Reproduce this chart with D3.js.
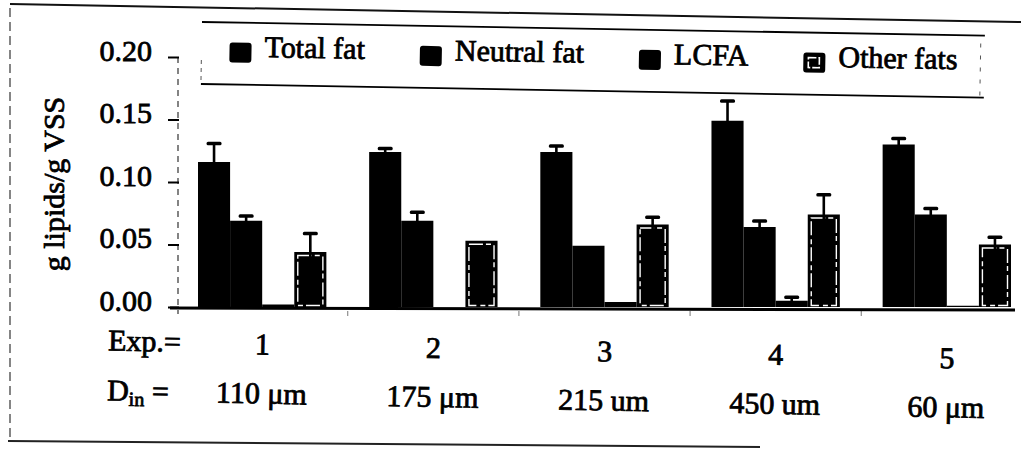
<!DOCTYPE html>
<html>
<head>
<meta charset="utf-8">
<script src="https://cdn.jsdelivr.net/npm/d3@7/dist/d3.min.js"></script>
<style>
  html, body { margin: 0; padding: 0; background: #fff; }
  svg { display: block; }
  svg text { font-family: "Liberation Serif", "DejaVu Serif", serif !important; fill: #000; stroke: #000; stroke-width: 0.8px; }
</style>
</head>
<body>
<svg id="chart" width="1021" height="453"></svg>
<script>
// Lipid content per experiment (g lipids / g VSS), mean and error
const exps = ["1", "2", "3", "4", "5"];
const diameters = ["110 μm", "175 μm", "215 um", "450 um", "60 μm"];
const series = ["Total fat", "Neutral fat", "LCFA", "Other fats"];
const totalFat      = [0.116, 0.124, 0.124, 0.149, 0.130];
const totalFatErr   = [0.015, 0.003, 0.005, 0.016, 0.005];
const neutralFat    = [0.069, 0.069, 0.049, 0.064, 0.074];
const neutralFatErr = [0.004, 0.007, 0.000, 0.005, 0.005];
const lcfa          = [0.002, 0.000, 0.004, 0.005, 0.001];
const lcfaErr       = [0.000, 0.000, 0.000, 0.003, 0.000];
const otherFats     = [0.044, 0.053, 0.066, 0.074, 0.050];
const otherFatsErr  = [0.015, 0.000, 0.006, 0.016, 0.006];
const yTicks = [0.00, 0.05, 0.10, 0.15, 0.20];
const yLabel = "g lipids/g VSS";

const values = [totalFat, neutralFat, lcfa, otherFats];
const errors = [totalFatErr, neutralFatErr, lcfaErr, otherFatsErr];
const rows = [];
series.forEach((s, si) => exps.forEach((e, ei) => rows.push({
  series: s, exp: e, value: values[si][ei], err: errors[si][ei]
})));

const svg = d3.select("#chart");
const fontSize = 30;
const serif = "'Liberation Serif', 'DejaVu Serif', serif";

const y = d3.scaleLinear().domain([0, 0.20]).range([307, 57]);
const x = d3.scaleBand().domain(exps).range([198, 1011]).paddingInner(0.25).paddingOuter(0);
const xs = d3.scaleBand().domain(series).range([0, x.bandwidth()]).padding(0);

// outer frame (page border)
svg.append("line").attr("x1", 10).attr("y1", 4).attr("x2", 1021).attr("y2", 22)
  .attr("stroke", "#111").attr("stroke-width", 2);
svg.append("line").attr("x1", 10).attr("y1", 8).attr("x2", 10).attr("y2", 440)
  .attr("stroke", "#444").attr("stroke-width", 1.3).attr("stroke-dasharray", "9,5");
svg.append("line").attr("x1", 8).attr("y1", 441).attr("x2", 760).attr("y2", 447)
  .attr("stroke", "#222").attr("stroke-width", 2);

// y axis: dashed spine, short ticks, labels
svg.append("line").attr("x1", 178).attr("x2", 178).attr("y1", y(0.20)).attr("y2", y(0) + 7)
  .attr("stroke", "#333").attr("stroke-width", 1.2).attr("stroke-dasharray", "6,5");
const yAxis = svg.append("g").attr("transform", "translate(179,0)")
  .call(d3.axisLeft(y).tickValues(yTicks).tickFormat(d3.format(".2f")).tickSize(11).tickPadding(16));
yAxis.attr("font-family", serif);
yAxis.select(".domain").remove();
yAxis.selectAll(".tick line").attr("stroke", "#000").attr("stroke-width", 2);
yAxis.selectAll(".tick text")
  .attr("font-size", fontSize).attr("dy", "0.1em");

svg.append("text")
  .attr("transform", `translate(64,${(y(0.20) + y(0)) / 2 + 2}) rotate(-90)`)
  .attr("text-anchor", "middle").attr("font-size", fontSize)
  .text(yLabel);

// category boundary ticks under the baseline
const boundaries = exps.slice(1).map(e => x(e) - x.step() * x.paddingInner() / 2);
svg.selectAll(".bnd").data(boundaries).join("line")
  .attr("x1", d => d).attr("x2", d => d).attr("y1", y(0) + 4).attr("y2", y(0) + 9)
  .attr("stroke", "#777").attr("stroke-width", 1);

// bars
const plot = svg.append("g");
const bars = plot.selectAll(".bar").data(rows.filter(d => d.value > 0)).join("g").attr("class", "bar");
bars.append("rect")
  .attr("x", d => x(d.exp) + xs(d.series))
  .attr("y", d => y(d.value))
  .attr("width", xs.bandwidth())
  .attr("height", d => y(0) - y(d.value))
  .attr("fill", "#000");

// "Other fats" bars carry a thin inner white outline
bars.filter(d => d.series === "Other fats").append("rect")
  .attr("x", d => x(d.exp) + xs(d.series) + 3.5)
  .attr("y", d => y(d.value) + 3.5)
  .attr("width", xs.bandwidth() - 7)
  .attr("height", d => Math.max(0, y(0) - y(d.value) - 5))
  .attr("fill", "none").attr("stroke", "#fff").attr("stroke-width", 1.4)
  .attr("stroke-dasharray", "14,3,5,4");

// error bars
const eb = plot.selectAll(".err").data(rows.filter(d => d.err > 0)).join("g").attr("class", "err");
const cx = d => x(d.exp) + xs(d.series) + xs.bandwidth() / 2;
eb.append("line")
  .attr("x1", cx).attr("x2", cx)
  .attr("y1", d => y(d.value - d.err)).attr("y2", d => y(d.value + d.err))
  .attr("stroke", "#000").attr("stroke-width", 2.6);
eb.append("rect")
  .attr("x", d => cx(d) - 7.5).attr("y", d => y(d.value + d.err) - 1.5)
  .attr("width", 15).attr("height", 3.5).attr("rx", 1.5)
  .attr("fill", "#000");

// baseline
svg.append("line").attr("x1", 170).attr("x2", 1015).attr("y1", y(0) + 1).attr("y2", y(0) + 3)
  .attr("stroke", "#000").attr("stroke-width", 3);

// category labels under the axis
const labels = svg.append("g").attr("transform", "rotate(1.15,140,352)").attr("font-family", serif);
labels.append("text").attr("x", 108).attr("y", 351).attr("font-size", fontSize).text("Exp.=");
const dl = labels.append("text").attr("x", 108).attr("y", 401).attr("font-size", fontSize);
dl.append("tspan").text("D");
dl.append("tspan").attr("font-size", 20).attr("dy", 5).text("in");
dl.append("tspan").attr("dy", -5).text(" =");
labels.selectAll(".expn").data(exps).join("text")
  .attr("x", d => x(d) + x.bandwidth() / 2).attr("y", 352)
  .attr("text-anchor", "middle").attr("font-size", fontSize).text(d => d);
labels.selectAll(".dia").data(diameters).join("text")
  .attr("x", (d, i) => x(exps[i]) + x.bandwidth() / 2).attr("y", 401)
  .attr("text-anchor", "middle").attr("font-size", fontSize).text(d => d);

// legend
const legend = svg.append("g").attr("transform", "rotate(1.0,202,22)").attr("font-family", serif);
legend.append("line").attr("x1", 202).attr("x2", 985).attr("y1", 22).attr("y2", 22)
  .attr("stroke", "#000").attr("stroke-width", 1.8);
legend.append("line").attr("x1", 202).attr("x2", 985).attr("y1", 84).attr("y2", 84)
  .attr("stroke", "#000").attr("stroke-width", 1.8);
legend.append("line").attr("x1", 202).attr("x2", 202).attr("y1", 60).attr("y2", 84)
  .attr("stroke", "#555").attr("stroke-width", 1).attr("stroke-dasharray", "4,4");
legend.append("line").attr("x1", 981).attr("x2", 981).attr("y1", 30).attr("y2", 82)
  .attr("stroke", "#555").attr("stroke-width", 1).attr("stroke-dasharray", "4,8");
let lx = 230;
series.forEach((s, i) => {
  const item = legend.append("g");
  item.append("rect").attr("x", lx).attr("y", 42).attr("width", 22).attr("height", 20)
    .attr("rx", 3).attr("fill", "#000");
  if (s === "Other fats") {
    item.append("rect").attr("x", lx + 5).attr("y", 47).attr("width", 11).attr("height", 10)
      .attr("fill", "none").attr("stroke", "#fff").attr("stroke-width", 1.6)
      .attr("stroke-dasharray", "8,2");
  }
  const t = item.append("text").attr("x", lx + 35).attr("y", 56).attr("font-size", fontSize).text(s);
  lx += 35 + t.node().getComputedTextLength() + 55;
});
</script>
</body>
</html>
